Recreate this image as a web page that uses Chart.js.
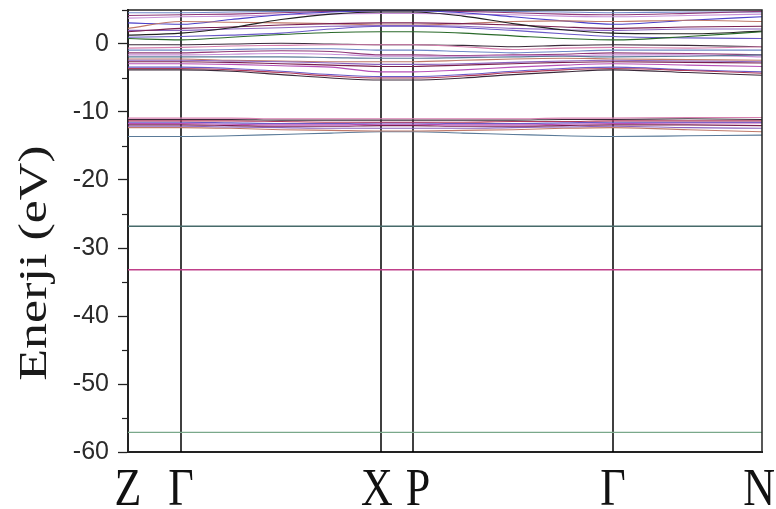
<!DOCTYPE html>
<html>
<head>
<meta charset="utf-8">
<script src="https://cdn.jsdelivr.net/npm/chart.js@4.4.1/dist/chart.umd.min.js"></script>
<style>
  html, body { margin: 0; padding: 0; background: #fff; }
</style>
</head>
<body>
<canvas id="bands" width="776" height="509"></canvas>
<script>
// high symmetry points along the path (positions in k-path units)
const kLabels = ['Z', 'Γ', 'X', 'P', 'Γ', 'N']
const kTicks = [0, 0.53, 2.53, 2.85, 4.85, 6.34]

// sample points: Z, Γ, 3 between Γ-X, X, P, 3 between P-Γ, Γ, mid Γ-N, N
const kPath = [0, 0.53, 1.03, 1.53, 2.03, 2.53, 2.85, 3.35, 3.85, 4.35, 4.85, 5.6, 6.34]

// energies (eV)
const valenceBands = [
  [-3.8, -3.8, -4.0, -4.5, -5.0, -5.3, -5.3, -5.0, -4.5, -4.1, -3.8, -4.2, -4.6],
  [-3.6, -3.6, -3.8, -4.2, -4.7, -5.0, -5.0, -4.7, -4.2, -3.8, -3.6, -3.9, -4.3],
  [-3.4, -3.4, -3.6, -4.0, -4.5, -4.8, -4.8, -4.5, -4.0, -3.6, -3.4, -3.8, -4.1],
  [-2.9, -2.9, -3.0, -3.2, -3.4, -4.1, -4.1, -3.8, -3.4, -3.1, -2.9, -3.1, -3.3],
  [-2.6, -2.6, -2.7, -2.9, -3.1, -3.3, -3.3, -3.1, -2.9, -2.7, -2.6, -2.7, -2.8],
  [-2.4, -2.4, -2.5, -2.6, -2.8, -3.0, -3.0, -2.9, -2.7, -2.5, -2.4, -2.5, -2.6],
  [-2.2, -2.2, -2.4, -2.5, -2.6, -2.6, -2.6, -2.4, -2.2, -2.1, -2.2, -2.3, -2.4],
  [-1.9, -1.9, -1.9, -1.9, -2.0, -2.1, -2.1, -2.0, -1.9, -1.8, -1.9, -1.8, -1.6],
  [-1.6, -1.6, -1.5, -1.4, -1.5, -1.8, -1.8, -1.8, -1.7, -1.7, -1.6, -1.6, -1.9],
  [-1.3, -1.3, -1.1, -1.0, -1.1, -1.6, -1.6, -1.7, -1.6, -1.5, -1.3, -1.4, -1.6],
  [-0.9, -0.9, -0.8, -0.7, -0.7, -0.9, -0.9, -1.1, -1.3, -1.1, -0.9, -0.9, -0.9],
  [-0.6, -0.5, -0.3, -0.2, -0.1, -0.1, -0.1, -0.4, -0.8, -0.6, -0.5, -0.6, -0.4],
  [-0.1, -0.1, 0.0, 0.1, 0.0, -0.1, -0.1, -0.2, -0.4, -0.2, -0.1, -0.2, -0.4]
]

const conductionBands = [
  [0.8, 0.6, 1.0, 1.4, 1.7, 1.8, 1.8, 1.6, 1.2, 0.8, 0.6, 1.1, 1.8],
  [1.0, 1.1, 1.3, 1.6, 2.2, 2.6, 2.6, 2.4, 2.0, 1.5, 1.1, 0.9, 0.8],
  [1.3, 1.6, 2.4, 3.6, 4.4, 4.7, 4.7, 4.1, 3.0, 2.1, 1.6, 1.5, 1.9],
  [1.8, 2.3, 2.5, 2.8, 3.0, 3.1, 3.1, 3.0, 2.8, 2.5, 2.3, 2.5, 2.6],
  [2.0, 2.0, 2.2, 2.4, 2.6, 2.7, 2.7, 2.6, 2.3, 2.1, 2.0, 2.2, 2.2],
  [2.3, 3.3, 3.2, 3.1, 3.0, 2.8, 2.8, 3.0, 3.3, 3.4, 3.3, 3.5, 3.3],
  [3.1, 2.9, 3.6, 4.3, 4.7, 4.9, 4.9, 4.6, 4.0, 3.4, 2.9, 3.5, 4.0],
  [3.8, 4.0, 4.1, 4.3, 4.4, 4.5, 4.5, 4.4, 4.3, 4.1, 4.0, 4.2, 4.4],
  [4.2, 4.3, 4.4, 4.6, 4.8, 4.9, 4.9, 4.8, 4.6, 4.4, 4.3, 4.5, 4.8],
  [4.6, 4.6, 4.7, 4.8, 4.9, 5.0, 5.0, 4.9, 4.8, 4.7, 4.6, 4.7, 4.7]
]

const lowerBands = [
  [-10.9, -10.9, -10.9, -11.0, -11.0, -11.0, -11.0, -11.0, -11.0, -10.9, -10.9, -10.8, -10.8],
  [-11.1, -11.1, -11.1, -11.2, -11.2, -11.2, -11.2, -11.2, -11.2, -11.1, -11.1, -11.0, -11.1],
  [-11.3, -11.3, -11.3, -11.4, -11.5, -11.5, -11.5, -11.5, -11.4, -11.4, -11.3, -11.3, -11.3],
  [-11.5, -11.5, -11.6, -11.7, -11.7, -11.6, -11.6, -11.7, -11.7, -11.6, -11.5, -11.5, -11.5],
  [-11.7, -11.7, -11.8, -11.9, -11.9, -11.8, -11.8, -11.9, -11.9, -11.8, -11.7, -11.6, -11.6],
  [-11.9, -11.9, -12.0, -12.1, -12.1, -12.0, -12.0, -12.1, -12.1, -12.0, -11.9, -11.9, -12.0],
  [-12.1, -12.1, -12.2, -12.3, -12.4, -12.4, -12.4, -12.4, -12.3, -12.2, -12.1, -12.3, -12.4],
  [-12.3, -12.3, -12.4, -12.6, -12.7, -12.8, -12.8, -12.7, -12.6, -12.4, -12.3, -12.6, -12.9],
  [-13.6, -13.6, -13.5, -13.3, -13.1, -12.9, -12.9, -13.1, -13.3, -13.5, -13.6, -13.5, -13.4]
]

// flat core levels
const coreLevels = [-26.8, -33.2, -57.1]

const yMin = -60
const yMax = 5

const palette = ['#3a2a3a', '#b03a5a', '#6a5ac8', '#b650b8', '#7a2050', '#8a64c0',
  '#c07a6a', '#5a7a98', '#c890d8', '#903a78', '#7088c8', '#d880b0']
const coreColors = ['#476a6a', '#c0408a', '#7aa88a']

function bandDataset(values, color) {
  return {
    data: values.map((e, i) => ({ x: kPath[i], y: e })),
    borderColor: color,
    borderWidth: 1.1,
    pointRadius: 0,
    cubicInterpolationMode: 'monotone',
    fill: false
  }
}

const datasets = []
let c = 0
valenceBands.forEach(b => datasets.push(bandDataset(b, palette[c++ % palette.length])))
conductionBands.forEach((b, i) => {
  let col = palette[c++ % palette.length]
  if (i === 0) col = '#2a6a2a'
  if (i === 2) col = '#222222'
  if (i === 6) col = '#4a40c8'
  datasets.push(bandDataset(b, col))
})
lowerBands.forEach(b => datasets.push(bandDataset(b, palette[c++ % palette.length])))
coreLevels.forEach((e, i) => {
  datasets.push({
    data: [{ x: kTicks[0], y: e }, { x: kTicks[kTicks.length - 1], y: e }],
    borderColor: coreColors[i],
    borderWidth: 1.3,
    pointRadius: 0
  })
})
// vertical lines at the inner high symmetry points
kTicks.slice(1, -1).forEach(k => {
  datasets.push({
    data: [{ x: k, y: yMin }, { x: k, y: yMax }],
    borderColor: '#000',
    borderWidth: 1.5,
    pointRadius: 0
  })
})

// small shifts so X and P do not touch
const labelShift = [0, 0, -4, 5, 0, 0]

const decor = {
  id: 'decor',
  afterDraw(chart) {
    const { ctx, chartArea: a, scales } = chart
    ctx.save()
    // frame top / right
    ctx.strokeStyle = '#222'
    ctx.lineWidth = 1.5
    ctx.beginPath()
    ctx.moveTo(a.left, a.top)
    ctx.lineTo(a.right, a.top)
    ctx.lineTo(a.right, a.bottom)
    ctx.stroke()
    // minor ticks on y
    ctx.lineWidth = 1.2
    for (let v = yMin + 5; v <= yMax; v += 10) {
      const y = Math.round(scales.y.getPixelForValue(v)) + 0.5
      ctx.beginPath()
      ctx.moveTo(a.left - 6, y)
      ctx.lineTo(a.left, y)
      ctx.stroke()
    }
    // k-point labels
    ctx.fillStyle = '#111'
    ctx.font = '44px "Liberation Serif", "Times New Roman", serif'
    ctx.textAlign = 'center'
    ctx.textBaseline = 'alphabetic'
    kTicks.forEach((k, i) => {
      let x = scales.x.getPixelForValue(k) + labelShift[i]
      const w = ctx.measureText(kLabels[i]).width
      x = Math.min(x, chart.width - w / 2 - 1)
      ctx.save()
      ctx.translate(x, 505)
      ctx.scale(1, 1.2)
      ctx.fillText(kLabels[i], 0, 0)
      ctx.restore()
    })
    // y axis title
    ctx.save()
    ctx.translate(46, 263)
    ctx.rotate(-Math.PI / 2)
    ctx.scale(1.3, 1)
    ctx.font = '40px "Liberation Serif", "Times New Roman", serif'
    ctx.textAlign = 'center'
    ctx.fillStyle = '#1a1a1a'
    ctx.fillText('Enerji (eV)', 0, 0)
    ctx.restore()
    ctx.restore()
  }
}

new Chart(document.getElementById('bands'), {
  type: 'line',
  data: { datasets },
  plugins: [decor],
  options: {
    responsive: false,
    animation: false,
    layout: { padding: { left: 0, top: 10, right: 14, bottom: 0 } },
    plugins: { legend: { display: false }, tooltip: { enabled: false } },
    scales: {
      x: {
        type: 'linear',
        min: kTicks[0],
        max: kTicks[kTicks.length - 1],
        grid: { display: false },
        ticks: { display: false },
        border: { display: true, color: '#222', width: 2 },
        afterFit(scale) { scale.height = 57 }
      },
      y: {
        min: yMin,
        max: yMax,
        ticks: {
          stepSize: 5,
          padding: 9,
          color: '#2a2a2a',
          font: { family: '"Liberation Sans", Arial, sans-serif', size: 25 },
          callback: v => (v % 10 === 0 ? String(v) : '')
        },
        grid: {
          drawOnChartArea: false,
          tickLength: 10,
          tickWidth: 1.3,
          tickColor: ctx => (ctx.tick && ctx.tick.value % 10 === 0 ? '#222' : 'rgba(0,0,0,0)')
        },
        border: { display: true, color: '#222', width: 2 },
        afterFit(scale) {
          scale.width = 128
          scale.paddingTop = 0
          scale.paddingBottom = 0
        }
      }
    }
  }
})
</script>
</body>
</html>
